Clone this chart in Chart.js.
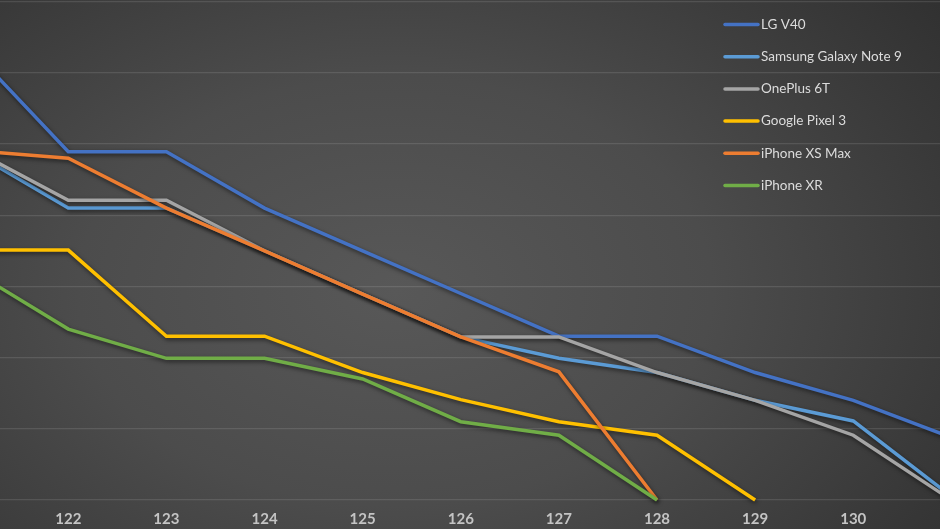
<!DOCTYPE html>
<html>
<head>
<meta charset="utf-8">
<script src="https://cdn.jsdelivr.net/npm/chart.js@4.4.1/dist/chart.umd.min.js"></script>
<style>
  html, body { margin: 0; padding: 0; }
  body {
    width: 940px; height: 529px; overflow: hidden;
    background: radial-gradient(ellipse 75% 90% at 42% 55%, #585858 0%, #4c4c4c 45%, #3a3a3a 80%, #303030 100%);
  }
  #wrap { position: relative; width: 940px; height: 529px; }
</style>
</head>
<body>
<div id="wrap"><canvas id="batteryChart"></canvas></div>
<script>
// ================= DATA =================
const xValues = [121, 122, 123, 124, 125, 126, 127, 128, 129, 130, 131];

const lgV40      = [6.35, 4.89, 4.89, 4.10, 3.50, 2.90, 2.30, 2.30, 1.79, 1.40, 0.88];
const galaxyNote9 = [4.91, 4.10, 4.10, 3.50, 2.89, 2.29, 1.99, 1.79, 1.40, 1.11, 0.05];
const onePlus6T  = [4.94, 4.21, 4.21, 3.50, 2.89, 2.29, 2.29, 1.79, 1.40, 0.91, 0.00];
const pixel3     = [3.51, 3.51, 2.30, 2.30, 1.79, 1.41, 1.10, 0.91, 0.00, null, null];
const iphoneXSMax = [4.91, 4.80, 4.10, 3.50, 2.89, 2.29, 1.80, 0.00, null, null, null];
const iphoneXR   = [3.24, 2.40, 1.99, 1.99, 1.70, 1.10, 0.91, 0.00, null, null, null];

const seriesNames = ["LG V40", "Samsung Galaxy Note 9", "OnePlus 6T", "Google Pixel 3", "iPhone XS Max", "iPhone XR"];
const seriesValues = [lgV40, galaxyNote9, onePlus6T, pixel3, iphoneXSMax, iphoneXR];
const seriesColors = ["#4472C4", "#5B9BD5", "#A5A5A5", "#FFC000", "#ED7D31", "#70AD47"];

const xTicks = [122, 123, 124, 125, 126, 127, 128, 129, 130];

// ================= PLUGINS =================
// soft drop shadow under the lines, like the Excel original
const lineShadow = {
  id: "lineShadow",
  beforeDatasetsDraw(chart) {
    const ctx = chart.ctx;
    ctx.save();
    ctx.shadowColor = "rgba(0,0,0,0.55)";
    ctx.shadowBlur = 4;
    ctx.shadowOffsetX = 1;
    ctx.shadowOffsetY = 2;
  },
  afterDatasetsDraw(chart) {
    chart.ctx.restore();
  }
};

// vertical legend in the top right corner
const sideLegend = {
  id: "sideLegend",
  afterDraw(chart) {
    const ctx = chart.ctx;
    ctx.save();
    ctx.font = "13.5px Lato";
    ctx.textBaseline = "middle";
    ctx.fillStyle = "#dcdcdc";
    chart.data.datasets.forEach((ds, i) => {
      const y = 24.5 + i * 32.2;
      ctx.strokeStyle = ds.borderColor;
      ctx.lineWidth = 3.5;
      ctx.lineCap = "round";
      ctx.beginPath();
      ctx.moveTo(725, y);
      ctx.lineTo(758, y);
      ctx.stroke();
      ctx.fillText(ds.label, 761, y);
    });
    ctx.restore();
  }
};

// ================= CHART =================
const datasets = seriesNames.map((name, i) => ({
  label: name,
  data: xValues.map((x, j) => ({ x, y: seriesValues[i][j] })),
  borderColor: seriesColors[i],
  backgroundColor: seriesColors[i],
  borderWidth: 3.5,
  pointRadius: 0,
  tension: 0,
  spanGaps: false,
  order: seriesNames.length - i,
  clip: false
}));

new Chart(document.getElementById("batteryChart"), {
  type: "line",
  data: { datasets },
  options: {
    responsive: true,
    maintainAspectRatio: false,
    animation: false,
    layout: { padding: 0 },
    plugins: {
      legend: { display: false },
      tooltip: { enabled: false }
    },
    scales: {
      x: {
        type: "linear",
        min: 121.304,
        max: 130.884,
        afterFit(axis) { axis.height = 29; },
        afterBuildTicks(axis) { axis.ticks = xTicks.map(v => ({ value: v })); },
        grid: { display: false },
        border: { display: false },
        ticks: {
          color: "#c4c4c4",
          font: { family: "Lato", size: 15, weight: "bold" },
          padding: 2,
          maxRotation: 0,
          autoSkip: false
        }
      },
      y: {
        min: 0,
        max: 7.022,
        afterFit(axis) { axis.width = 0; },
        ticks: { display: false, stepSize: 1, includeBounds: false },
        grid: { color: "rgba(255,255,255,0.11)", lineWidth: 1.3, drawTicks: false },
        border: { display: false }
      }
    }
  },
  plugins: [lineShadow, sideLegend]
});
</script>
</body>
</html>
